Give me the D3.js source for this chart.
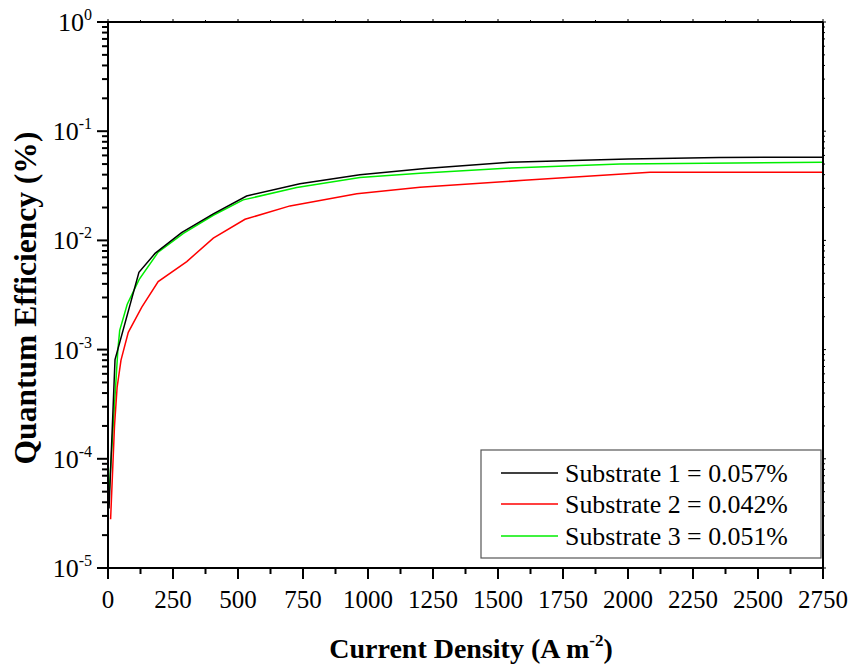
<!DOCTYPE html>
<html><head><meta charset="utf-8">
<script src="https://cdn.jsdelivr.net/npm/d3@7"></script>
<style>body{margin:0;background:#fff}</style>
</head><body><svg id="c" width="854" height="666"></svg>
<script>
const sub1X = [4, 27, 119, 181, 283, 405, 533, 738, 969, 1220, 1546, 2000, 2350, 2750];
const sub1Y = [3.5e-5, 8.1e-4, 5.1e-3, 7.6e-3, 1.18e-2, 1.75e-2, 2.55e-2, 3.3e-2, 4.0e-2, 4.55e-2, 5.2e-2, 5.55e-2, 5.75e-2, 5.78e-2];
const sub2X = [10, 25, 35, 50, 78, 130, 193, 303, 405, 527, 700, 957, 1200, 1600, 2085, 2750];
const sub2Y = [2.8e-5, 2e-4, 4.5e-4, 8e-4, 1.44e-3, 2.45e-3, 4.2e-3, 6.4e-3, 1.05e-2, 1.56e-2, 2.07e-2, 2.67e-2, 3.07e-2, 3.55e-2, 4.2e-2, 4.2e-2];
const sub3X = [2, 38, 45, 74, 120, 193, 290, 405, 520, 726, 969, 1200, 1550, 1969, 2750];
const sub3Y = [4e-5, 1.0e-3, 1.5e-3, 2.6e-3, 4.4e-3, 7.8e-3, 1.16e-2, 1.7e-2, 2.35e-2, 3.05e-2, 3.76e-2, 4.13e-2, 4.6e-2, 5.0e-2, 5.2e-2];
const seriesNames = ["Substrate 1 = 0.057%", "Substrate 2 = 0.042%", "Substrate 3 = 0.051%"];
const seriesColors = ["#000000", "#ff0000", "#00ee00"];
const xTicks = [0,250,500,750,1000,1250,1500,1750,2000,2250,2500,2750];
const yExps = [0,-1,-2,-3,-4,-5];

const FONT = "Liberation Serif";
const svg = d3.select("#c");
const L=108, R=823, T=22, B=568;
const x = d3.scaleLinear().domain([0,2750]).range([L,R]);
const y = d3.scaleLog().domain([1e-5,1]).range([B,T]);

const series = [[sub1X,sub1Y],[sub2X,sub2Y],[sub3X,sub3Y]].map(([xs,ys])=>xs.map((v,i)=>[v,ys[i]]));
const line = d3.line().x(d=>x(d[0])).y(d=>y(d[1]));
[2,1,0].forEach(i=>{
  svg.append("path").attr("d",line(series[i])).attr("fill","none")
    .attr("stroke",seriesColors[i]).attr("stroke-width",1.5);
});

const g = svg.append("g").attr("stroke","#000").attr("stroke-width",2);
g.append("line").attr("x1",L).attr("x2",R).attr("y1",B).attr("y2",B);
g.append("line").attr("x1",L).attr("x2",R).attr("y1",T).attr("y2",T);
g.append("line").attr("x1",L).attr("x2",L).attr("y1",T).attr("y2",B);
g.append("line").attr("x1",R).attr("x2",R).attr("y1",T).attr("y2",B);

const txt = () => svg.append("text").style("font-family",FONT).attr("fill","#000");
function fit(sel, base, target){
  const w = sel.node().getComputedTextLength();
  if (w>0) sel.attr("font-size", base*target/w);
}

const xMinor = d3.range(125,2750,250);
xTicks.forEach(v=>{
  g.append("line").attr("x1",x(v)).attr("x2",x(v)).attr("y1",B).attr("y2",B+11);
  g.append("line").attr("x1",x(v)).attr("x2",x(v)).attr("y1",T).attr("y2",T-3).attr("stroke-width",1);
  txt().attr("x",x(v)).attr("y",608).attr("text-anchor","middle").attr("font-size",25).text(v);
});
xMinor.forEach(v=>{
  g.append("line").attr("x1",x(v)).attr("x2",x(v)).attr("y1",B).attr("y2",B+6);
  g.append("line").attr("x1",x(v)).attr("x2",x(v)).attr("y1",T).attr("y2",T-2).attr("stroke-width",1);
});

yExps.forEach(e=>{
  const yy=y(Math.pow(10,e));
  g.append("line").attr("x1",L-11).attr("x2",L).attr("y1",yy).attr("y2",yy);
  g.append("line").attr("x1",R).attr("x2",R+3).attr("y1",yy).attr("y2",yy).attr("stroke-width",1);
  const t=txt().attr("x",92).attr("y",yy+9).attr("text-anchor","end").attr("font-size",26);
  t.append("tspan").text("10");
  t.append("tspan").attr("dy",-11).attr("font-size",16).text(e);
  if(e>-5){
    for(let k=2;k<=9;k++){
      const ym=y(k*Math.pow(10,e-1));
      g.append("line").attr("x1",L-6).attr("x2",L).attr("y1",ym).attr("y2",ym);
      g.append("line").attr("x1",R).attr("x2",R+2).attr("y1",ym).attr("y2",ym).attr("stroke-width",1);
    }
  }
});

const xt = txt().attr("x",471).attr("y",658).attr("text-anchor","middle")
  .attr("font-size",28).attr("font-weight","bold");
xt.append("tspan").text("Current Density (A m");
xt.append("tspan").attr("dy",-12).attr("font-size",17).text("-2");
xt.append("tspan").attr("dy",12).text(")");
const yt = txt().attr("transform","translate(36,298) rotate(-90)").attr("text-anchor","middle")
  .attr("font-size",28).attr("font-weight","bold").text("Quantum Efficiency (%)");
fit(yt, 28, 333);

svg.append("rect").attr("x",481).attr("y",450).attr("width",340).attr("height",108)
  .attr("fill","#fff").attr("stroke","#555").attr("stroke-width",1.2);
const ly=[473,504,536];
seriesNames.forEach((n,i)=>{
  svg.append("line").attr("x1",501).attr("x2",558).attr("y1",ly[i]).attr("y2",ly[i])
    .attr("stroke",seriesColors[i]).attr("stroke-width",1.5);
  const t = txt().attr("x",565).attr("y",ly[i]+9).attr("font-size",26).text(n);
  fit(t, 26, 223);
});
</script></body></html>
